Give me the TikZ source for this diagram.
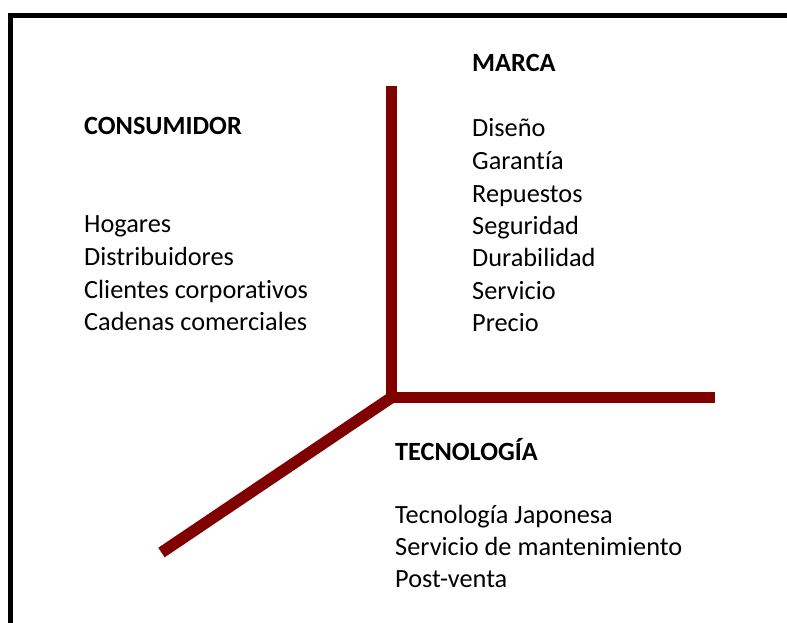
\documentclass[tikz,border=0pt]{standalone}
\usepackage{fontspec}
\setmainfont[Ligatures=NoCommon]{Carlito}
\definecolor{axisred}{HTML}{800000}
\tikzset{
  frameline/.style={line width=4.6pt, draw=black, line join=miter},
  axisline/.style={line width=11.5pt, draw=axisred, line cap=butt},
  head/.style={anchor=base west, inner sep=0pt, font=\fontsize{26.3}{32}\selectfont\bfseries},
  item/.style={anchor=base west, inner sep=0pt, font=\fontsize{26.3}{32}\selectfont}
}
\begin{document}
\begin{tikzpicture}[x=1pt,y=-1pt]
\useasboundingbox (0,0) rectangle (787,623);
% frame
\coordinate (fr) at (787,15.5);
\coordinate (fc) at (10.4,15.5);
\coordinate (fb) at (10.4,623);
\draw[frameline] (fr) -- (fc) -- (fb);
% axes
\coordinate (J) at (391.5,397.5);
\coordinate (top) at (391.5,86);
\coordinate (right) at (715,397.5);
\coordinate (bl) at (161.5,552.5);
\draw[axisline] (J) -- (top);
\draw[axisline] (J) -- (right);
\draw[axisline] (J) -- (bl);
\fill[axisred] (J) circle (5.75pt);
% consumidor
\node[head] (ch) at (84,135) {CONSUMIDOR};
\node[item] (c1) at (84,232) {Hogares};
\node[item] (c2) at (84,265) {Distribuidores};
\node[item] (c3) at (84,298) {Clientes corporativos};
\node[item] (c4) at (84,330.5) {Cadenas comerciales};
% marca
\node[head] (mh) at (472,72) {MARCA};
\node[item] (m1) at (472,137) {Diseño};
\node[item] (m2) at (472,169.5) {Garantía};
\node[item] (m3) at (472,202) {Repuestos};
\node[item] (m4) at (472,234) {Seguridad};
\node[item] (m5) at (472,266.5) {Durabilidad};
\node[item] (m6) at (472,299) {Servicio};
\node[item] (m7) at (472,331) {Precio};
% tecnologia
\node[head] (th) at (395,460) {TECNOLOGÍA};
\node[item] (t1) at (395,523) {Tecnología Japonesa};
\node[item] (t2) at (395,555) {Servicio de mantenimiento};
\node[item] (t3) at (395,587) {Post-venta};
\end{tikzpicture}
\end{document}
